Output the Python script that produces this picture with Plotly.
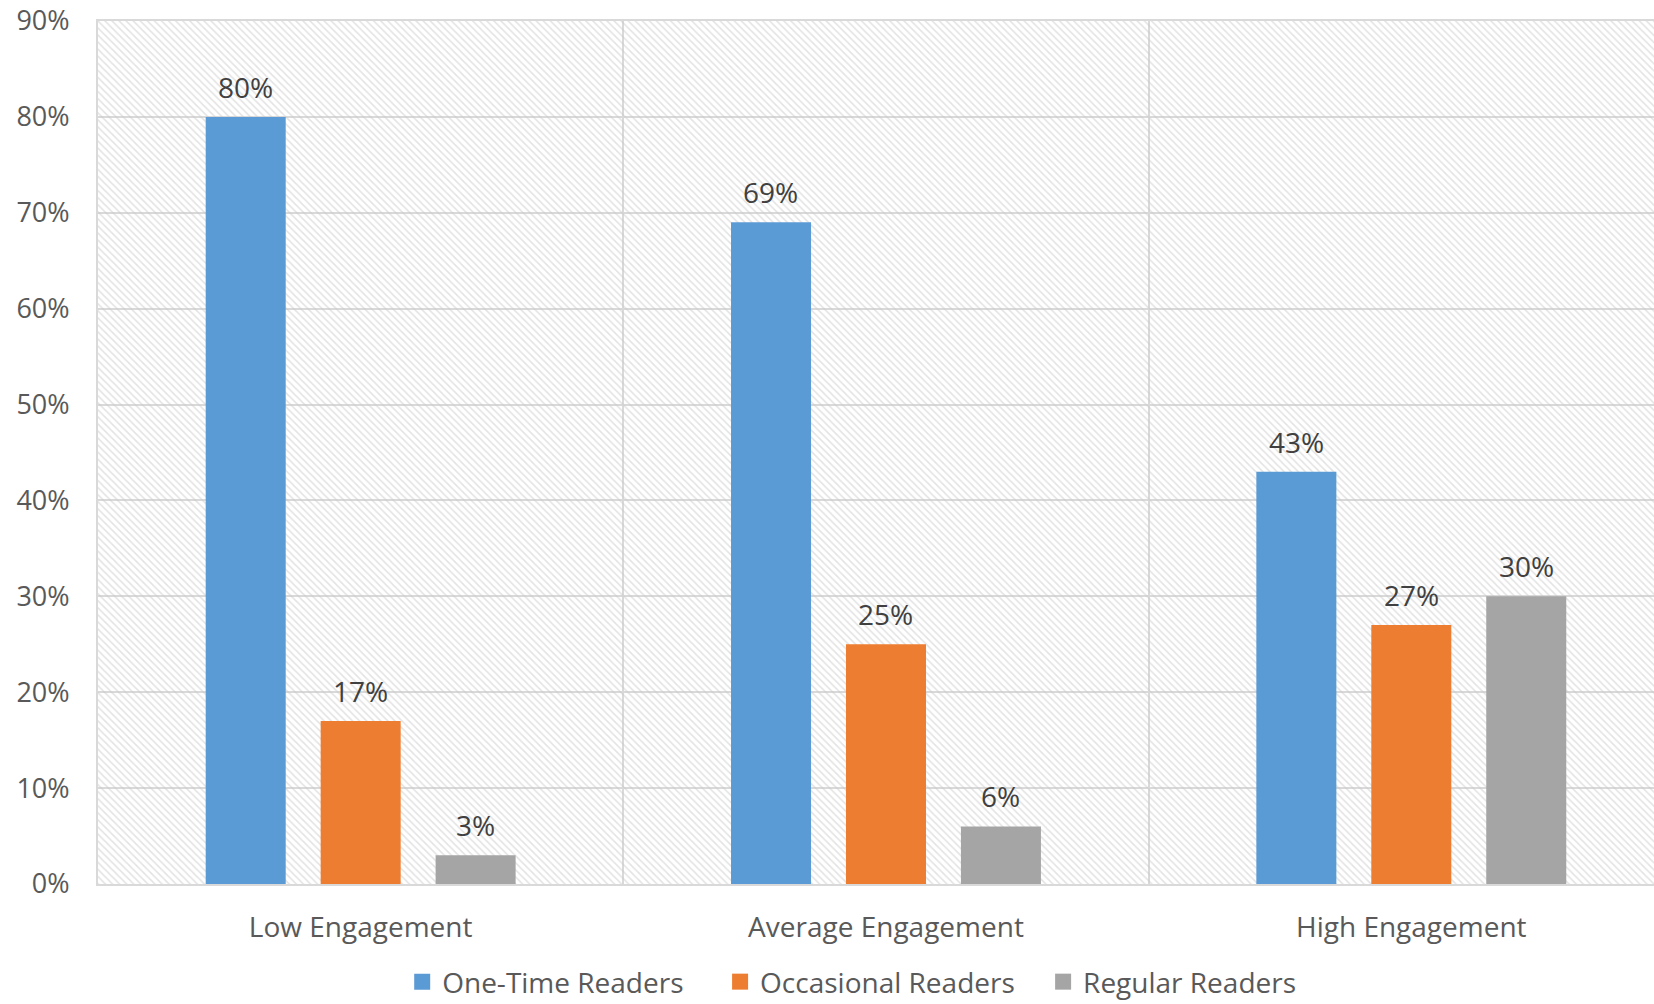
import plotly.graph_objects as go

# Reader engagement survey: share of each reader type per engagement level
categories = ["Low Engagement", "Average Engagement", "High Engagement"]
series_names = ["One-Time Readers", "Occasional Readers", "Regular Readers"]
one_time = [80, 69, 43]
occasional = [17, 25, 27]
regular = [3, 6, 30]
series_values = [one_time, occasional, regular]
colors = ["#5B9BD5", "#ED7D31", "#A5A5A5"]
y_ticks = [0, 10, 20, 30, 40, 50, 60, 70, 80, 90]

W, H = 1654, 1004
ML, MR, MT, MB = 98, 0, 21, 120
x_range = [-0.5, 2.462]
y_max = 90

fig = go.Figure()

# Hatched plot-area background, one bar per category slot
fig.add_trace(go.Bar(
    x=[0, 1, 2], y=[y_max] * 3, width=1,
    xaxis="x", yaxis="y",
    marker=dict(color="rgba(0,0,0,0)", line=dict(width=0),
                pattern=dict(shape="\\", fgcolor="#c8c8c8", bgcolor="rgba(0,0,0,0)",
                             size=5, solidity=0.32)),
    hoverinfo="skip", showlegend=False,
))

# Data bars on an overlaid categorical axis, each series with its own legend box
legend_ids = ["legend", "legend2", "legend3"]
for name, vals, col, lg in zip(series_names, series_values, colors, legend_ids):
    fig.add_trace(go.Bar(
        x=categories, y=vals, name=name, xaxis="x2", yaxis="y",
        marker=dict(color=col, line=dict(width=0)), showlegend=False,
    ))
    fig.add_trace(go.Scatter(
        x=[None], y=[None], name=name, mode="markers", xaxis="x2", yaxis="y",
        marker=dict(symbol="square", size=16, color=col), legend=lg,
    ))

# Value labels above each bar
slot_px = 115
for si, vals in enumerate(series_values):
    for ci, v in enumerate(vals):
        fig.add_annotation(
            x=categories[ci], y=v, xref="x2", yref="y",
            text=f"{v}%", showarrow=False,
            xshift=(si - 1) * slot_px, yshift=30, yanchor="middle",
            font=dict(size=28, color="#404040"),
        )

legend_style = dict(
    orientation="h", xanchor="left", y=-0.1135, yanchor="middle",
    font=dict(size=28, color="#595959"), itemwidth=30,
    bgcolor="rgba(0,0,0,0)",
)

fig.update_layout(
    width=W, height=H,
    margin=dict(l=ML, r=MR, t=MT, b=MB, autoexpand=False),
    paper_bgcolor="white", plot_bgcolor="white",
    font=dict(family="Open Sans", size=27, color="#595959"),
    barmode="group", bargap=0.3435, bargroupgap=0.304,
    xaxis=dict(
        range=x_range, tickvals=[-0.5, 0.5, 1.5, 2.5], showticklabels=False,
        showgrid=True, gridcolor="#d9d9d9", gridwidth=2,
        showline=True, linecolor="#d9d9d9", linewidth=2, mirror=True,
        zeroline=False, ticks="",
    ),
    xaxis2=dict(
        overlaying="x", anchor="y", range=x_range, type="category",
        categoryarray=categories, showgrid=False, zeroline=False,
        showline=False, ticks="", ticklabelstandoff=24,
        tickfont=dict(size=28, color="#595959"),
    ),
    yaxis=dict(
        range=[0, y_max], tickvals=y_ticks, ticktext=[f"{t}%" for t in y_ticks],
        showgrid=True, gridcolor="#d9d9d9", gridwidth=2,
        showline=True, linecolor="#d9d9d9", linewidth=2,
        zeroline=False, ticks="", ticklabelstandoff=21,
        tickfont=dict(size=27, color="#595959"),
    ),
    legend=dict(x=0.1955, **legend_style),
    legend2=dict(x=0.3998, **legend_style),
    legend3=dict(x=0.6074, **legend_style),
    showlegend=True,
)

fig.write_html("out.html")
